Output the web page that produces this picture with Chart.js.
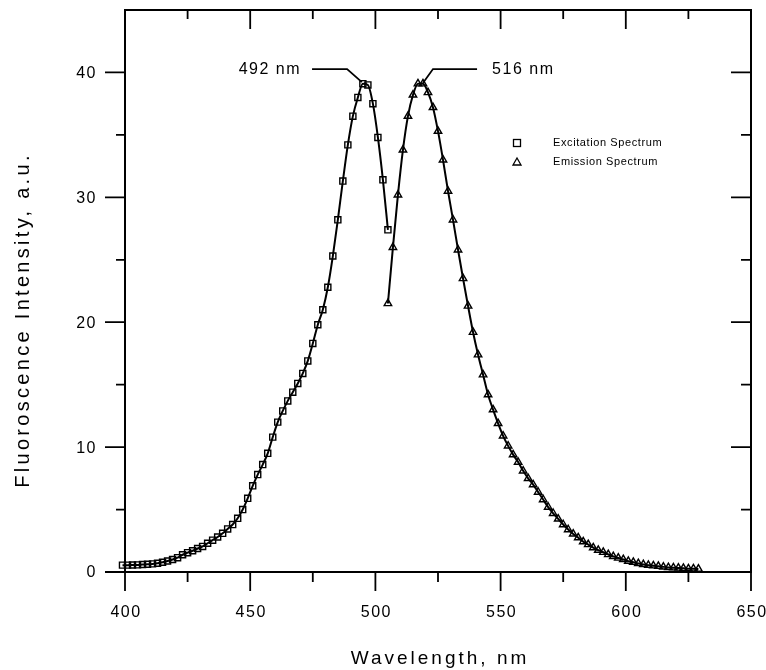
<!DOCTYPE html>
<html>
<head>
<meta charset="utf-8">
<title>Fluorescence spectra</title>
<script src="https://cdn.jsdelivr.net/npm/chart.js@4/dist/chart.umd.min.js"></script>
<style>
  html, body { margin: 0; padding: 0; background: #fff; }
  #wrap { width: 766px; height: 670px; }
</style>
</head>
<body>
<div id="wrap"><canvas id="chart" width="766" height="670"></canvas></div>
<script>
'use strict';

// ── Data ─────────────────────────────────────────────────────────────────────
const excitationNm = [
  399, 401, 403, 405, 407, 409, 411, 413, 415, 417,
  419, 421, 423, 425, 427, 429, 431, 433, 435, 437,
  439, 441, 443, 445, 447, 449, 451, 453, 455, 457,
  459, 461, 463, 465, 467, 469, 471, 473, 475, 477,
  479, 481, 483, 485, 487, 489, 491, 493, 495, 497,
  499, 501, 503, 505
];
const excitationVal = [
  0.55, 0.55, 0.56, 0.57, 0.6, 0.62, 0.65, 0.7, 0.78, 0.88,
  1.0, 1.15, 1.38, 1.55, 1.7, 1.88, 2.05, 2.3, 2.55, 2.8,
  3.1, 3.45, 3.8, 4.3, 5.0, 5.9, 6.9, 7.8, 8.6, 9.5,
  10.8, 12.0, 12.9, 13.7, 14.4, 15.1, 15.9, 16.9, 18.3, 19.8,
  21.0, 22.8, 25.3, 28.2, 31.3, 34.2, 36.5, 38.0, 39.1, 39.0,
  37.5, 34.8, 31.4, 27.4
];
const emissionNm = [
  505, 507, 509, 511, 513, 515, 517, 519, 521, 523,
  525, 527, 529, 531, 533, 535, 537, 539, 541, 543,
  545, 547, 549, 551, 553, 555, 557, 559, 561, 563,
  565, 567, 569, 571, 573, 575, 577, 579, 581, 583,
  585, 587, 589, 591, 593, 595, 597, 599, 601, 603,
  605, 607, 609, 611, 613, 615, 617, 619, 621, 623,
  625, 627, 629
];
const emissionVal = [
  21.5, 26.0, 30.2, 33.8, 36.5, 38.2, 39.1, 39.1, 38.4, 37.2,
  35.3, 33.0, 30.5, 28.2, 25.8, 23.5, 21.3, 19.2, 17.4, 15.8,
  14.2, 13.0, 11.9, 10.9, 10.1, 9.4, 8.8, 8.1, 7.5, 7.0,
  6.4, 5.8, 5.2, 4.7, 4.25, 3.8, 3.4, 3.05, 2.75, 2.43,
  2.2, 1.95, 1.75, 1.58, 1.4, 1.25, 1.12, 1.0, 0.87, 0.78,
  0.68, 0.6, 0.55, 0.5, 0.46, 0.41, 0.37, 0.34, 0.32, 0.3,
  0.27, 0.26, 0.24
];

const xMajorTicks = [400, 450, 500, 550, 600, 650];
const xMinorTicks = [425, 475, 525, 575, 625];
const yMajorTicks = [0, 10, 20, 30, 40];
const yMinorTicks = [5, 15, 25, 35];

const seriesNames = ['Excitation Spectrum', 'Emission Spectrum'];
const peakLabels = ['492 nm', '516 nm'];
// leader lines for the peak labels, in data units (nm, intensity)
const peakLeaders = [
  [[474.7, 40.27], [488.7, 40.27], [494.6, 39.23]],
  [[540.6, 40.27], [523.0, 40.27], [519.0, 39.15]]
];

// ── Axes, ticks, labels (drawn through the chart's own scales) ───────────────
const FONT = '"Liberation Sans", Arial, sans-serif';

function seg(ctx, x1, y1, x2, y2) {
  ctx.moveTo(x1, y1);
  ctx.lineTo(x2, y2);
}

const framePlugin = {
  id: 'frame',
  beforeDatasetsDraw(chart) {
    const { ctx, chartArea: a, scales: { x, y } } = chart;
    ctx.save();
    ctx.strokeStyle = '#000';
    ctx.lineWidth = 2;
    ctx.strokeRect(a.left, a.top, a.right - a.left, a.bottom - a.top);

    ctx.lineWidth = 1.8;
    ctx.beginPath();
    xMajorTicks.forEach(v => {
      const px = x.getPixelForValue(v);
      seg(ctx, px, a.bottom, px, a.bottom + 19);
      seg(ctx, px, a.top, px, a.top + 19);
    });
    xMinorTicks.forEach(v => {
      const px = x.getPixelForValue(v);
      seg(ctx, px, a.bottom, px, a.bottom + 10);
      seg(ctx, px, a.top, px, a.top + 9);
    });
    yMajorTicks.forEach(v => {
      const py = y.getPixelForValue(v);
      seg(ctx, a.left - 20, py, a.left, py);
      seg(ctx, a.right - 20, py, a.right, py);
    });
    yMinorTicks.forEach(v => {
      const py = y.getPixelForValue(v);
      seg(ctx, a.left - 9, py, a.left, py);
      seg(ctx, a.right - 10, py, a.right, py);
    });
    ctx.stroke();
    ctx.restore();
  },
  afterDatasetsDraw(chart) {
    const { ctx, chartArea: a, scales: { x, y } } = chart;
    ctx.save();
    ctx.fillStyle = '#000';
    ctx.strokeStyle = '#000';

    // tick labels
    ctx.font = '16px ' + FONT;
    ctx.letterSpacing = '1.5px';
    ctx.textAlign = 'center';
    ctx.textBaseline = 'alphabetic';
    xMajorTicks.forEach(v => ctx.fillText(String(v), x.getPixelForValue(v) + 1, a.bottom + 45));
    ctx.textAlign = 'right';
    ctx.textBaseline = 'middle';
    yMajorTicks.forEach(v => ctx.fillText(String(v), a.left - 28, y.getPixelForValue(v) + 1));

    // axis titles
    ctx.font = '19px ' + FONT;
    ctx.letterSpacing = '3px';
    ctx.textAlign = 'center';
    ctx.textBaseline = 'alphabetic';
    ctx.fillText('Wavelength, nm', 440, a.bottom + 92);
    ctx.save();
    ctx.translate(29, 320);
    ctx.rotate(-Math.PI / 2);
    ctx.font = '20px ' + FONT;
    ctx.letterSpacing = '3.3px';
    ctx.fillText('Fluoroscence Intensity, a.u.', 0, 0);
    ctx.restore();

    // peak labels with leader lines
    ctx.lineWidth = 1.8;
    peakLeaders.forEach(pts => {
      ctx.beginPath();
      pts.forEach((p, i) => {
        const px = x.getPixelForValue(p[0]), py = y.getPixelForValue(p[1]);
        if (i === 0) ctx.moveTo(px, py); else ctx.lineTo(px, py);
      });
      ctx.stroke();
    });
    ctx.font = '16px ' + FONT;
    ctx.letterSpacing = '1.5px';
    ctx.textBaseline = 'middle';
    ctx.textAlign = 'right';
    ctx.fillText(peakLabels[0], x.getPixelForValue(470.3), y.getPixelForValue(40.2));
    ctx.textAlign = 'left';
    ctx.fillText(peakLabels[1], x.getPixelForValue(546.6), y.getPixelForValue(40.2));

    // legend
    const lx = 517, ly = [143, 162];
    ctx.lineWidth = 1.3;
    ctx.strokeRect(lx - 3.5, ly[0] - 3.5, 7, 7);
    ctx.beginPath();
    ctx.moveTo(lx, ly[1] - 4);
    ctx.lineTo(lx + 4, ly[1] + 3);
    ctx.lineTo(lx - 4, ly[1] + 3);
    ctx.closePath();
    ctx.stroke();
    ctx.font = '11px ' + FONT;
    ctx.letterSpacing = '0.6px';
    ctx.textAlign = 'left';
    ctx.textBaseline = 'middle';
    ctx.fillText(seriesNames[0], 553, ly[0]);
    ctx.fillText(seriesNames[1], 553, ly[1]);
    ctx.restore();
  }
};

// ── Chart ────────────────────────────────────────────────────────────────────
function pts(xs, ys) { return xs.map((v, i) => ({ x: v, y: ys[i] })); }

const ctx = document.getElementById('chart').getContext('2d');
new Chart(ctx, {
  type: 'line',
  data: {
    datasets: [
      {
        label: seriesNames[0],
        data: pts(excitationNm, excitationVal),
        borderColor: '#000',
        borderWidth: 2,
        pointStyle: 'rect',
        pointRadius: 4.3,
        pointBorderWidth: 1.4,
        pointBorderColor: '#000',
        pointBackgroundColor: 'rgba(255,255,255,0)',
        cubicInterpolationMode: 'monotone',
        clip: false,
      },
      {
        label: seriesNames[1],
        data: pts(emissionNm, emissionVal),
        borderColor: '#000',
        borderWidth: 2,
        pointStyle: 'triangle',
        pointRadius: 4.3,
        pointBorderWidth: 1.4,
        pointBorderColor: '#000',
        pointBackgroundColor: 'rgba(255,255,255,0)',
        cubicInterpolationMode: 'monotone',
        clip: false,
      },
    ],
  },
  options: {
    responsive: false,
    animation: false,
    events: [],
    layout: { padding: { left: 125, right: 15, top: 10, bottom: 98 } },
    scales: {
      x: { type: 'linear', min: 400, max: 650, display: false },
      y: { type: 'linear', min: 0, max: 45, display: false },
    },
    plugins: {
      legend: { display: false },
      tooltip: { enabled: false },
    },
  },
  plugins: [framePlugin],
});
</script>
</body>
</html>
